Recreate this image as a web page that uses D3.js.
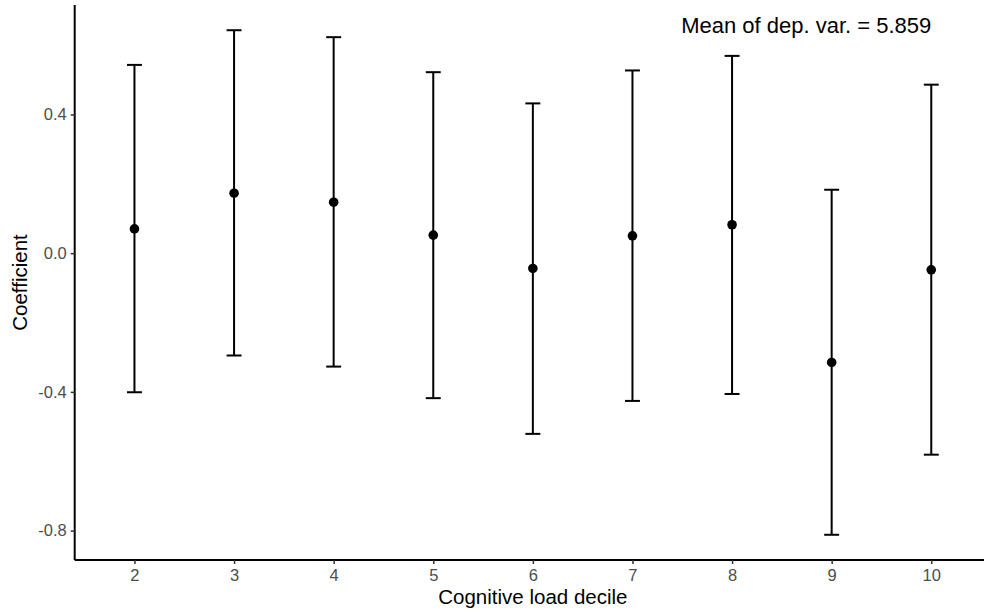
<!DOCTYPE html>
<html>
<head>
<meta charset="utf-8">
<script src="https://cdn.jsdelivr.net/npm/d3@7"></script>
<style>
  body { margin: 0; background: #fff; }
  text { font-family: "Liberation Sans", Arial, sans-serif; }
</style>
</head>
<body>
<div class="chart"></div>
<script>
var svgWidth = 984;
var svgHeight = 615;

// data
var deciles = [2, 3, 4, 5, 6, 7, 8, 9, 10];
var coef  = [0.070, 0.173, 0.147, 0.052, -0.044, 0.050, 0.082, -0.315, -0.048];
var upper = [0.543, 0.643, 0.623, 0.522, 0.432, 0.527, 0.569, 0.183, 0.486];
var lower = [-0.401, -0.295, -0.327, -0.418, -0.521, -0.426, -0.406, -0.812, -0.581];
var yTicks = [-0.8, -0.4, 0.0, 0.4];
var meanLabel = "Mean of dep. var. = 5.859";

var panel = { left: 74.7, top: 5, bottom: 560 };
var step = 99.6;

var svg = d3.select(".chart")
  .append("svg")
  .attr("width", svgWidth)
  .attr("height", svgHeight);

// scales (discrete x with 0.6 expansion, y with 5% expansion)
var xScale = d3.scaleLinear()
  .domain([1.4, 10.6])
  .range([panel.left, panel.left + 9.2 * step]);

var yMin = d3.min(lower), yMax = d3.max(upper);
var pad = (yMax - yMin) * 0.05;
var yScale = d3.scaleLinear()
  .domain([yMin - pad, yMax + pad])
  .range([panel.bottom, panel.top]);

var rows = deciles.map((d, i) => ({ x: d, y: coef[i], hi: upper[i], lo: lower[i] }));

// error bars
var bars = svg.append("g")
  .attr("stroke", "#000")
  .attr("stroke-width", 2)
  .attr("fill", "none");

var capHalf = 0.075;
rows.forEach(function(d) {
  bars.append("line")
    .attr("x1", xScale(d.x)).attr("x2", xScale(d.x))
    .attr("y1", yScale(d.hi)).attr("y2", yScale(d.lo));
  bars.append("line")
    .attr("x1", xScale(d.x - capHalf)).attr("x2", xScale(d.x + capHalf))
    .attr("y1", yScale(d.hi)).attr("y2", yScale(d.hi));
  bars.append("line")
    .attr("x1", xScale(d.x - capHalf)).attr("x2", xScale(d.x + capHalf))
    .attr("y1", yScale(d.lo)).attr("y2", yScale(d.lo));
});

// points
svg.append("g")
  .selectAll("circle")
  .data(rows)
  .enter()
  .append("circle")
  .attr("cx", d => xScale(d.x))
  .attr("cy", d => yScale(d.y))
  .attr("r", 4.8)
  .attr("fill", "#000");

// axes
var xAxis = d3.axisBottom(xScale)
  .tickValues(deciles)
  .tickFormat(d => String(d))
  .tickSize(4)
  .tickPadding(5);

var yAxis = d3.axisLeft(yScale)
  .tickValues(yTicks)
  .tickFormat(d => d.toFixed(1))
  .tickSize(4)
  .tickPadding(4);

var gx = svg.append("g")
  .attr("transform", `translate(0, ${panel.bottom})`)
  .call(xAxis);

var gy = svg.append("g")
  .attr("transform", `translate(${panel.left}, 0)`)
  .call(yAxis);

[gx, gy].forEach(function(g) {
  g.attr("font-size", null).attr("font-family", null);
  g.select(".domain").attr("stroke", "#000").attr("stroke-width", 2);
  g.selectAll(".tick line").attr("stroke", "#333").attr("stroke-width", 1.5);
  g.selectAll(".tick text")
    .attr("fill", "#4d4d4d")
    .style("font-size", "16.5px");
});
gx.select(".domain").attr("d", `M${panel.left},0H${svgWidth}`);
gy.select(".domain").attr("d", `M0,${panel.top}V${panel.bottom}`);

// axis titles
svg.append("text")
  .attr("x", (xScale.range()[0] + xScale.range()[1]) / 2)
  .attr("y", 604)
  .attr("text-anchor", "middle")
  .style("font-size", "20.5px")
  .text("Cognitive load decile");

svg.append("text")
  .attr("transform", `translate(27, ${(panel.top + panel.bottom) / 2}) rotate(-90)`)
  .attr("text-anchor", "middle")
  .style("font-size", "20.5px")
  .text("Coefficient");

// annotation
svg.append("text")
  .attr("x", xScale(10))
  .attr("y", 33)
  .attr("text-anchor", "end")
  .style("font-size", "22px")
  .text(meanLabel);
</script>
</body>
</html>
